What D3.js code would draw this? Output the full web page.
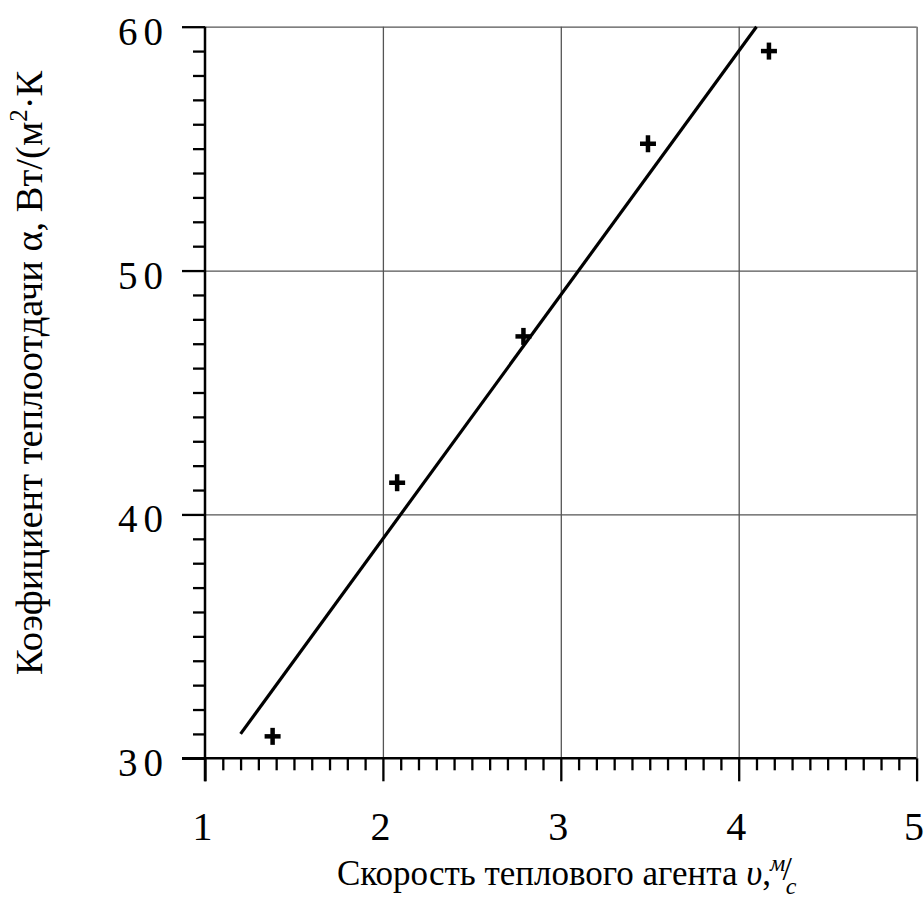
<!DOCTYPE html>
<html><head><meta charset="utf-8">
<script src="https://cdn.jsdelivr.net/npm/d3@7"></script>
<style>
html,body{margin:0;padding:0;background:#fff;}
svg{display:block;font-family:"Liberation Serif","Times New Roman",serif;}
svg text{font-family:"Liberation Serif","Times New Roman",serif;}
</style></head>
<body><svg id="c" width="924" height="901"></svg>
<script>
// Data
const speedValues = [1.38, 2.08, 2.79, 3.49, 4.17];
const alphaValues = [30.9, 41.3, 47.3, 55.2, 59.0];
const fitLineX = [1.2, 4.1];
const fitLineY = [31.0, 60.0];
const xTickLabels = [1, 2, 3, 4, 5];
const yTickLabels = [30, 40, 50, 60];
const xTitle = "Скорость теплового агента ";
const yTitle = "Коэфициент теплоотдачи α, Вт/(м";

const svg = d3.select("#c");
const x = d3.scaleLinear().domain([1, 5]).range([205, 916.6]);
const y = d3.scaleLinear().domain([30, 60]).range([758.3, 26.7]);
const W = x.range()[1] - x.range()[0];
const H = y.range()[0] - y.range()[1];

// Gridlines
const gx = svg.append("g").attr("transform", `translate(0,${y(30)})`)
  .call(d3.axisBottom(x).tickValues([2,3,4,5]).tickSize(-H).tickFormat(""));
gx.select(".domain").remove();
gx.selectAll("line").attr("stroke", "#555").attr("stroke-width", 1.3);
const gy = svg.append("g").attr("transform", `translate(${x(1)},0)`)
  .call(d3.axisLeft(y).tickValues([40,50,60]).tickSize(-W).tickFormat(""));
gy.select(".domain").remove();
gy.selectAll("line").attr("stroke", "#555").attr("stroke-width", 1.3);

// Minor ticks
const xMinor = d3.range(10, 51).map(d => d / 10).filter(d => Math.abs(d - Math.round(d)) > 1e-6);
const ax1 = svg.append("g").attr("transform", `translate(0,${y(30)})`)
  .call(d3.axisBottom(x).tickValues(xMinor).tickSize(12).tickFormat(""));
ax1.select(".domain").remove();
ax1.selectAll("line").attr("stroke", "#000").attr("stroke-width", 2.3);
const yMinor = d3.range(30, 61).filter(d => d % 10 !== 0);
const ay1 = svg.append("g").attr("transform", `translate(${x(1)},0)`)
  .call(d3.axisLeft(y).tickValues(yMinor).tickSize(12).tickFormat(""));
ay1.select(".domain").remove();
ay1.selectAll("line").attr("stroke", "#000").attr("stroke-width", 2.3);

// Major ticks + labels
const ax2 = svg.append("g").attr("transform", `translate(0,${y(30)})`)
  .call(d3.axisBottom(x).tickValues(xTickLabels).tickSize(23).tickPadding(30).tickFormat(d3.format("d")));
ax2.attr("font-size", 40);
ax2.select(".domain").remove();
ax2.selectAll("line").attr("stroke", "#000").attr("stroke-width", 2.3);
ax2.selectAll("text").attr("fill", "#000").attr("dx", -3);

const ay2 = svg.append("g").attr("transform", `translate(${x(1)},0)`)
  .call(d3.axisLeft(y).tickValues(yTickLabels).tickSize(23).tickPadding(19).tickFormat(d3.format("d")));
ay2.attr("font-size", 39);
ay2.select(".domain").remove();
ay2.selectAll("line").attr("stroke", "#000").attr("stroke-width", 2.3);
ay2.selectAll("text").attr("fill", "#000").attr("dy", "0.45em").attr("text-anchor", "end")
  .each(function(d) {
    const t = d3.select(this);
    const s = String(d);
    t.text(null);
    s.split("").forEach((ch, i) => {
      t.append("tspan").attr("dx", i === 0 ? 0 : 6).text(ch);
    });
  });

// Axis lines
svg.append("line").attr("x1", x(1) - 23).attr("x2", x(5)).attr("y1", y(30)).attr("y2", y(30))
  .attr("stroke", "#000").attr("stroke-width", 2.5);
svg.append("line").attr("x1", x(1)).attr("x2", x(1)).attr("y1", y(60)).attr("y2", y(30) + 23)
  .attr("stroke", "#000").attr("stroke-width", 2.5);

// Fit line
svg.append("path")
  .datum(fitLineX.map((d, i) => [d, fitLineY[i]]))
  .attr("d", d3.line().x(d => x(d[0])).y(d => y(d[1])))
  .attr("fill", "none").attr("stroke", "#000").attr("stroke-width", 3.2);

// Markers
svg.append("g").selectAll("g")
  .data(speedValues.map((d, i) => [d, alphaValues[i]]))
  .join("g")
  .attr("transform", d => `translate(${x(d[0])},${y(d[1])})`)
  .each(function() {
    const g = d3.select(this);
    g.append("line").attr("x1", -8).attr("x2", 8).attr("stroke", "#000").attr("stroke-width", 4.5);
    g.append("line").attr("y1", -8.5).attr("y2", 8.5).attr("stroke", "#000").attr("stroke-width", 4.5);
  });

// X title
const xt = svg.append("text").attr("x", 337).attr("y", 885)
  .attr("font-size", 35).attr("fill", "#000");
xt.append("tspan").text(xTitle);
xt.append("tspan").attr("font-style", "italic").text("υ");
xt.append("tspan").text(",");
xt.append("tspan").attr("font-style", "italic").attr("font-size", 24).attr("dy", -14).attr("dx", -1).text("м");
xt.append("tspan").attr("font-size", 34).attr("dy", 9).attr("dx", -3).text("/");
xt.append("tspan").attr("font-style", "italic").attr("font-size", 24).attr("dy", 14).attr("dx", -6).text("с");

// Y title
const yt = svg.append("text").attr("transform", "translate(42,675) rotate(-90)")
  .attr("font-size", 38.5).attr("fill", "#000");
yt.append("tspan").text(yTitle);
yt.append("tspan").attr("font-size", 25).attr("dy", -15).text("2");
yt.append("tspan").attr("dy", 15).text("·К");
</script></body></html>
